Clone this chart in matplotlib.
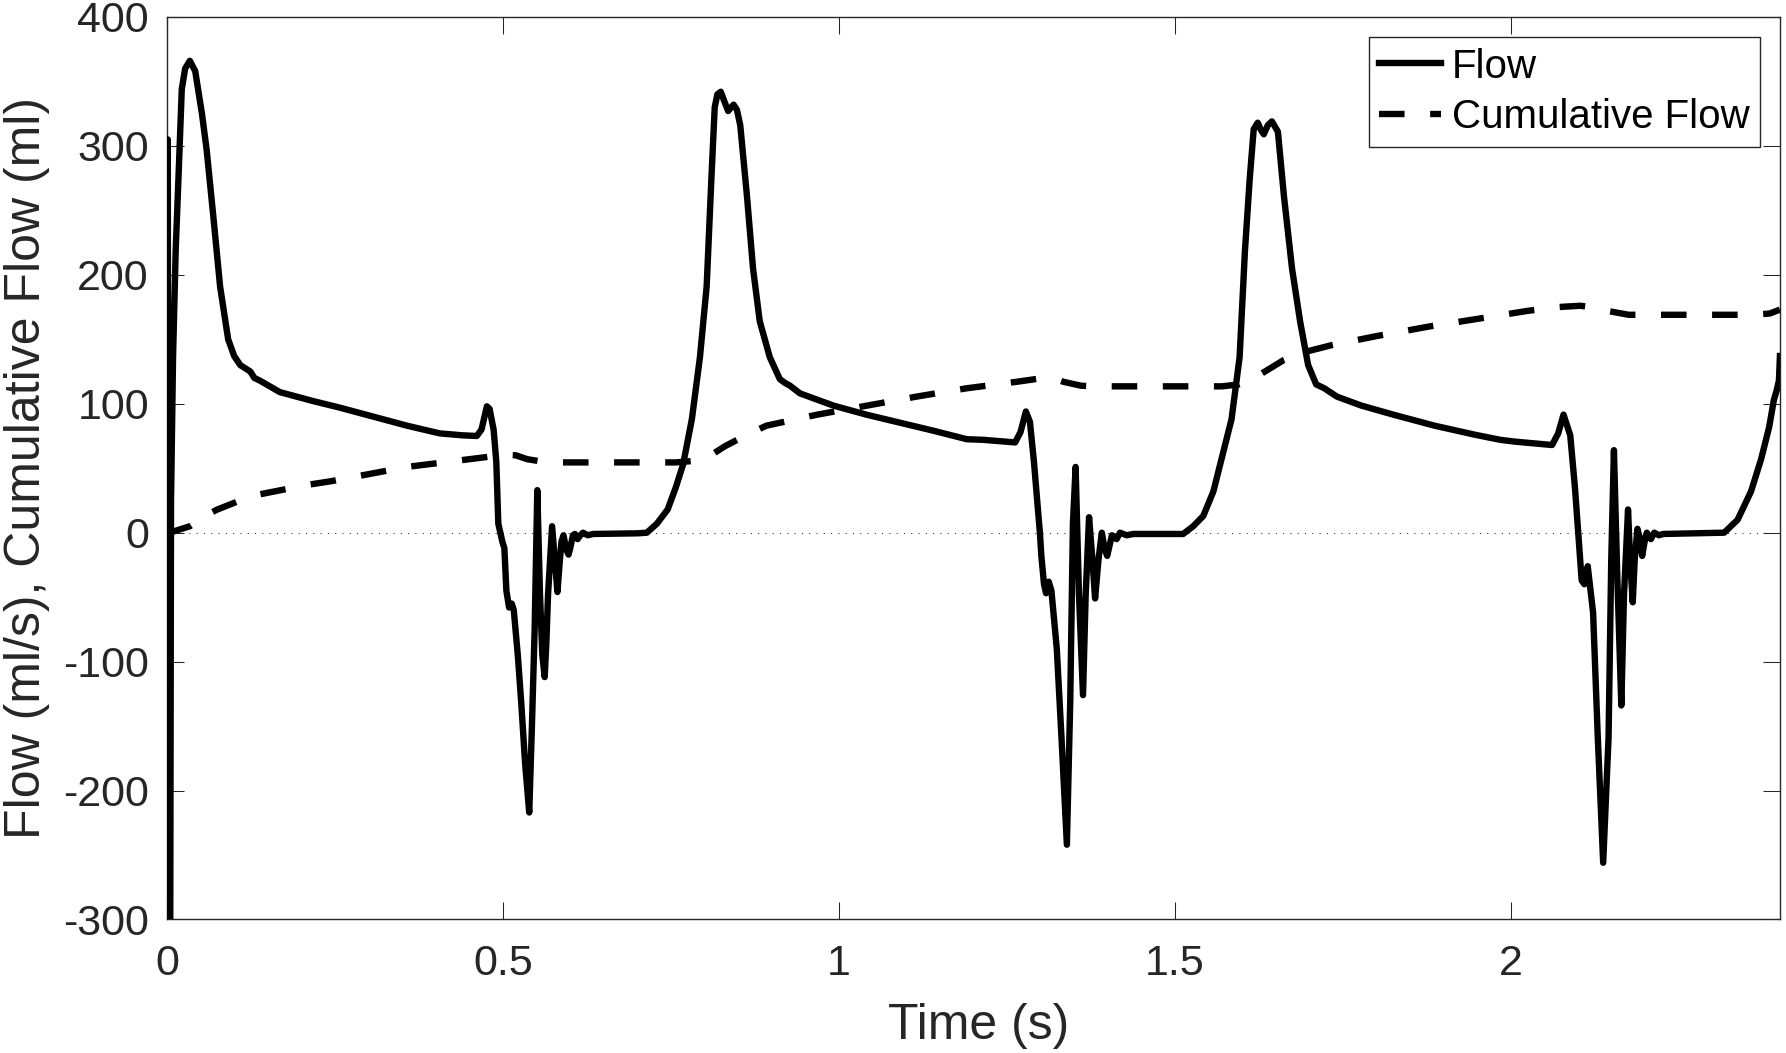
import matplotlib
matplotlib.use("Agg")
import matplotlib.pyplot as plt

# flow trace (ml/s)
time_flow = [0.0, 0.0012, 0.0025, 0.0045, 0.006, 0.009, 0.013, 0.017, 0.022, 0.027,
             0.034, 0.042, 0.052, 0.059, 0.069, 0.079, 0.091, 0.100, 0.109, 0.124,
             0.130, 0.138, 0.168, 0.218, 0.257, 0.307, 0.357, 0.406, 0.440, 0.461,
             0.468, 0.476, 0.480, 0.486, 0.490, 0.493, 0.499, 0.502, 0.505, 0.509,
             0.513, 0.516, 0.522, 0.527, 0.533, 0.539, 0.543, 0.547, 0.551, 0.555,
             0.5585, 0.562, 0.5645, 0.567, 0.573, 0.577, 0.581, 0.584, 0.587, 0.590,
             0.594, 0.5975, 0.600, 0.604, 0.607, 0.611, 0.615, 0.619, 0.626, 0.634,
             0.700, 0.714, 0.729, 0.745, 0.757, 0.768, 0.781, 0.793, 0.803, 0.810,
             0.815, 0.819, 0.824, 0.829, 0.835, 0.843, 0.848, 0.853, 0.863, 0.872,
             0.882, 0.897, 0.912, 0.920, 0.927, 0.942, 0.992, 1.041, 1.141, 1.190,
             1.215, 1.262, 1.270, 1.278, 1.284, 1.290, 1.294, 1.299, 1.301, 1.305,
             1.308, 1.312, 1.316, 1.324, 1.331, 1.339, 1.344, 1.348, 1.352, 1.357,
             1.363, 1.367, 1.372, 1.377, 1.381, 1.386, 1.391, 1.395, 1.399, 1.406,
             1.409, 1.413, 1.418, 1.428, 1.438, 1.512, 1.527, 1.542, 1.557, 1.572,
             1.584, 1.596, 1.604, 1.611, 1.617, 1.623, 1.627, 1.632, 1.638, 1.644,
             1.653, 1.662, 1.674, 1.686, 1.698, 1.710, 1.722, 1.741, 1.777, 1.825,
             1.886, 1.946, 1.984, 2.006, 2.061, 2.070, 2.078, 2.088, 2.095, 2.100,
             2.105, 2.109, 2.114, 2.122, 2.129, 2.137, 2.145, 2.149, 2.153, 2.158,
             2.164, 2.168, 2.174, 2.177, 2.181, 2.184, 2.188, 2.192, 2.195, 2.200,
             2.202, 2.205, 2.208, 2.213, 2.220, 2.226, 2.317, 2.337, 2.357, 2.372,
             2.384, 2.391, 2.395, 2.3985, 2.400]
flow = [300, 305, -400, -400, 25, 136, 220, 274, 344, 360,
        366, 358, 325, 297, 245, 191, 150, 137, 130, 125,
        120, 118, 109, 102, 97, 90, 83, 77, 75.5, 75,
        80, 98, 96, 80, 55, 7, -7, -12, -45, -58,
        -55, -60, -95, -131, -180, -217, -150, -76, 33, -48,
        -95, -112, -85, -48, 5, -20, -46, -25, -7, -2,
        -13, -17, -12, -2, -1, -5, -2, 0, -2, -1,
        -0.5, 0, 7, 18, 35, 53, 88, 136, 191, 274,
        330, 340, 342, 335, 327, 332, 328, 316, 261, 205,
        164, 136, 119, 116, 114, 108, 98.5, 91.5, 79, 72.5,
        72, 70, 78, 94, 86, 55, 30, -1, -18, -40,
        -47, -38, -45, -90, -159, -242, -131, 7, 51, -48,
        -126, -48, 12, -21, -51, -21, 0, -12, -18, -2,
        -3, -5, 0, -2, -1, -1, 5, 13, 32, 63,
        88, 136, 219, 274, 313, 318, 313, 309, 316, 319,
        311, 261, 205, 164, 130, 115, 112, 105.5, 98.6, 91.5,
        83, 76, 72, 70.6, 68, 77, 91.6, 75.5, 35, -1,
        -37, -40, -26, -62, -159, -256, -159, -21, 64, -34,
        -134, -48, 18, -20, -54, -20, 3, -6, -18, -3,
        0, -3, -5, 0, -2, -1, 0, 10, 32, 57,
        82, 103, 110, 118, 137]

# cumulative flow (ml)
time_cum = [0.0, 0.010, 0.034, 0.060, 0.075, 0.109, 0.131, 0.208, 0.245, 0.357,
            0.473, 0.500, 0.519, 0.536, 0.560, 0.587, 0.757, 0.780, 0.798, 0.815,
            0.830, 0.863, 0.892, 0.967, 1.041, 1.116, 1.190, 1.264, 1.304, 1.320,
            1.334, 1.360, 1.379, 1.500, 1.570, 1.595, 1.610, 1.629, 1.662, 1.692,
            1.734, 1.800, 1.879, 1.952, 2.024, 2.070, 2.103, 2.118, 2.133, 2.175,
            2.200, 2.360, 2.385, 2.400]
cum_flow = [-1, 1, 5, 14, 18, 25, 29, 37, 40, 51,
            58.5, 60.5, 60, 57, 55, 54.5, 54.5, 55.5, 58, 62,
            67, 76, 83, 91.5, 98.5, 105.6, 112, 117, 120, 119.5,
            117, 114, 113.5, 113.5, 113.5, 115, 118, 123.5, 134, 140,
            145.6, 152.5, 160, 166, 172, 175, 176, 175, 173, 169,
            169, 169, 170, 173]

x_ticks = [0, 0.5, 1, 1.5, 2]
x_tick_labels = ['0', '0.5', '1', '1.5', '2']
y_ticks = [-300, -200, -100, 0, 100, 200, 300, 400]
y_tick_labels = ['-300', '-200', '-100', '0', '100', '200', '300', '400']

plt.rcParams['font.family'] = ['Liberation Sans', 'DejaVu Sans']
plt.rcParams['axes.unicode_minus'] = False

dark = '#262626'

fig = plt.figure(figsize=(17.86, 10.53), dpi=100)
ax = fig.add_axes([0.0935, 0.1268, 0.9031, 0.8571])

ax.axhline(0, color=dark, lw=0.75, linestyle=(0, (1, 6)), zorder=1)
ax.plot(time_flow, flow, color='black', lw=4.6, label='Flow',
        solid_joinstyle='round', zorder=3)
ax.plot(time_cum, cum_flow, color='black', lw=4.6, linestyle=(0, (4, 4)),
        label='Cumulative Flow', zorder=2)

ax.set_xlim(0, 2.4)
ax.set_ylim(-300, 400)
ax.set_xticks(x_ticks)
ax.set_xticklabels(x_tick_labels)
ax.set_yticks(y_ticks)
ax.set_yticklabels(y_tick_labels)

ax.tick_params(direction='in', length=12, width=0.75, color=dark,
               labelcolor=dark, labelsize=31, top=True, right=True)
ax.tick_params(axis='x', pad=18)
ax.tick_params(axis='y', pad=13)
for s in ax.spines.values():
    s.set_color(dark)
    s.set_linewidth(1.0)

ax.set_xlabel('Time (s)', fontsize=36, color=dark)
ax.xaxis.set_label_coords(0.503, -0.0927)
ax.set_ylabel('Flow (ml/s), Cumulative Flow (ml)', fontsize=36, color=dark)
ax.yaxis.set_label_coords(-0.0725, 0.5)

leg = ax.legend(loc='upper right', fontsize=29, handlelength=1.55,
                handletextpad=0.25, borderpad=0.26, labelspacing=0.31,
                borderaxespad=0.5, fancybox=False, framealpha=1,
                edgecolor=dark)
leg.get_frame().set_linewidth(1.0)

fig.savefig('out.png', dpi=100)
